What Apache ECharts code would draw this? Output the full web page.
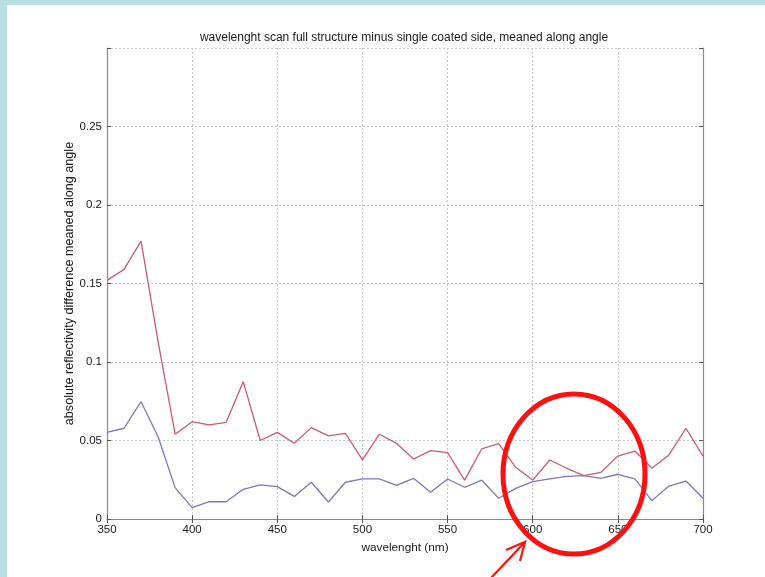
<!DOCTYPE html>
<html>
<head>
<meta charset="utf-8">
<script src="https://cdn.jsdelivr.net/npm/echarts@6/dist/echarts.min.js"></script>
<style>
  html, body { margin: 0; padding: 0; background: #ffffff; }
  #chart { width: 765px; height: 577px; }
</style>
</head>
<body>
<div id="chart"></div>
<script>
// Wavelength samples (nm)
const wavelengths = [350, 360, 370, 380, 390, 400, 410, 420, 430, 440, 450, 460,
  470, 480, 490, 500, 510, 520, 530, 540, 550, 560, 570, 580,
  590, 600, 610, 620, 630, 640, 650, 660, 670, 680, 690, 700];

// Full structure minus single coated side, meaned along angle
const fullStructure = [0.152, 0.159, 0.177, 0.113, 0.054, 0.062, 0.060, 0.0616, 0.0875, 0.050, 0.0552, 0.0482,
  0.0582, 0.0529, 0.0546, 0.0376, 0.054, 0.0482, 0.0382, 0.0435, 0.0423, 0.0248, 0.0446, 0.0480,
  0.0329, 0.0248, 0.0376, 0.0323, 0.0276, 0.0297, 0.0401, 0.0433, 0.0323, 0.0408, 0.0578, 0.0401];

const coatedSide = [0.0552, 0.0578, 0.0747, 0.0524, 0.020, 0.0072, 0.011, 0.011, 0.0189, 0.0217, 0.0206, 0.0144,
  0.0234, 0.0108, 0.0234, 0.0255, 0.0255, 0.0214, 0.0259, 0.017, 0.0255, 0.0202, 0.0248, 0.0132,
  0.0195, 0.0238, 0.0255, 0.0272, 0.0276, 0.0259, 0.0285, 0.0255, 0.0117, 0.021, 0.0242, 0.0132];

const yTicks = [0, 0.05, 0.1, 0.15, 0.2, 0.25];

const titleText = 'wavelenght scan full structure minus single coated side, meaned along angle';
const xName = 'wavelenght (nm)';
const yName = 'absolute reflectivity difference meaned along angle';

const pairs = (ys) => wavelengths.map((x, i) => [x, ys[i]]);

const chart = echarts.init(document.getElementById('chart'), null, { renderer: 'canvas' });

const font = 'Liberation Sans, Arial, sans-serif';
const axisGray = '#8a8a8a';
const gridStyle = { show: true, lineStyle: { color: '#c8c8c8', type: [2, 2], width: 1 } };

const option = {
  backgroundColor: '#ffffff',
  animation: false,
  textStyle: { fontFamily: font },
  title: {
    text: titleText,
    left: 399, top: 27, textAlign: 'center',
    textStyle: { fontSize: 12, fontWeight: 'normal', color: '#1a1a1a', fontFamily: font }
  },
  grid: { left: 107, right: 62, top: 48, bottom: 58 },
  xAxis: [{
    type: 'value', min: 350, max: 700, interval: 50,
    name: xName, nameLocation: 'middle', nameGap: 23, nameMoveOverlap: false,
    nameTextStyle: { fontSize: 11.8, color: '#1a1a1a', fontFamily: font },
    axisLine: { lineStyle: { color: axisGray, width: 1.2 } },
    axisTick: { inside: true, length: 4, lineStyle: { color: '#555' } },
    axisLabel: { fontSize: 11.5, color: '#1a1a1a', margin: 5 },
    splitLine: gridStyle
  }, {
    type: 'value', min: 350, max: 700, interval: 50, position: 'top',
    axisLine: { show: true, lineStyle: { color: axisGray, width: 1.2 } },
    axisTick: { show: true, inside: true, length: 4, lineStyle: { color: '#555' } },
    axisLabel: { show: false }, splitLine: { show: false }
  }],
  yAxis: [{
    type: 'value', min: 0, max: 0.3, interval: 0.05,
    name: yName, nameLocation: 'middle', nameGap: 31, nameRotate: 90, nameMoveOverlap: false,
    nameTextStyle: { fontSize: 12.6, color: '#1a1a1a', fontFamily: font },
    axisLine: { show: true, lineStyle: { color: axisGray, width: 1.2 } },
    axisTick: { show: true, inside: true, length: 4, lineStyle: { color: '#555' } },
    axisLabel: {
      fontSize: 11.5, color: '#1a1a1a', margin: 5,
      formatter: (v) => {
        const hit = yTicks.find(t => Math.abs(t - v) < 1e-9);
        return hit === undefined ? '' : String(hit);
      }
    },
    splitLine: gridStyle
  }, {
    type: 'value', min: 0, max: 0.3, interval: 0.05, position: 'right',
    axisLine: { show: true, lineStyle: { color: axisGray, width: 1.2 } },
    axisTick: { show: true, inside: true, length: 4, lineStyle: { color: '#555' } },
    axisLabel: { show: false }, splitLine: { show: false }
  }],
  series: [{
    type: 'line', data: pairs(fullStructure), symbol: 'none',
    lineStyle: { color: '#c85d72', width: 1.3 }, z: 3
  }, {
    type: 'line', data: pairs(coatedSide), symbol: 'none',
    lineStyle: { color: '#7a78c2', width: 1.3 }, z: 3
  }],
  graphic: [
    // light blue frame strips
    { type: 'rect', left: 0, top: 0, shape: { width: 765, height: 5 }, style: { fill: '#b9dfe3' }, z: 10 },
    { type: 'rect', left: 0, top: 0, shape: { width: 7, height: 577 }, style: { fill: '#b9dfe3' }, z: 10 },
    // highlight ring
    { type: 'ellipse', shape: { cx: 574, cy: 474, rx: 71, ry: 80 },
      style: { fill: 'none', stroke: '#ff1010', lineWidth: 5 }, z: 20 },
    // pointer arrow
    { type: 'line', shape: { x1: 491, y1: 578, x2: 525, y2: 542 },
      style: { stroke: '#ff1010', lineWidth: 2.2 }, z: 20 },
    { type: 'polyline', shape: { points: [[506, 550], [525, 542], [520, 561]] },
      style: { stroke: '#ff1010', lineWidth: 2.2, fill: 'none' }, z: 20 }
  ]
};

chart.setOption(option);
</script>
</body>
</html>
